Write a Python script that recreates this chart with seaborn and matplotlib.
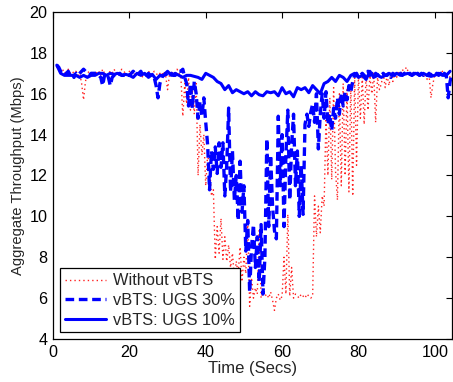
import numpy as np
import pandas as pd
import matplotlib
matplotlib.use("Agg")
import matplotlib.pyplot as plt
import seaborn as sns

# ---- data ----
t_fast = np.arange(1.0, 104.75, 0.5)  # 0.5 s samples

without_vbts = [
    17.3, 17.2, 17.1, 17.2, 17.0, 17.1, 17.2, 17.0, 17.1, 17.0,
    17.1, 16.9, 17.0, 16.5, 15.7, 16.6, 17.0, 17.1, 16.9, 17.0,
    17.1, 17.0, 17.1, 16.9, 17.2, 17.0, 16.9, 17.0, 17.1, 17.0,
    17.2, 17.0, 17.1, 17.0, 17.2, 17.1, 17.0, 16.9, 17.1, 17.0,
    17.1, 16.9, 17.0, 17.1, 17.0, 16.8, 17.0, 16.9, 17.1, 17.0,
    16.9, 17.1, 17.0, 16.9, 17.0, 16.9, 17.1, 16.9, 16.2, 16.9,
    17.0, 17.1, 16.9, 17.2, 17.0, 16.8, 14.9, 16.5, 15.5, 16.8,
    15.2, 16.2, 15.0, 16.5, 12.0, 14.5, 13.0, 14.0, 11.5, 13.0,
    12.5, 11.0, 11.3, 7.9, 9.5, 8.2, 9.9, 7.9, 9.0, 7.8,
    8.6, 7.5, 8.2, 7.0, 7.8, 7.2, 8.5, 6.8, 8.0, 7.2,
    9.8, 5.6, 7.0, 6.0, 6.5, 6.2, 9.3, 6.0, 6.3, 6.1,
    6.2, 6.0, 6.3, 5.9, 5.4, 6.0, 6.2, 5.9, 6.1, 8.0,
    6.2, 10.1, 6.1, 7.5, 6.0, 6.2, 6.1, 6.0, 6.2, 6.1,
    6.0, 6.2, 6.1, 6.0, 6.1, 11.0, 9.0, 10.5, 9.2, 11.0,
    10.5, 14.9, 12.0, 15.8, 11.8, 16.3, 12.2, 10.8, 16.0, 11.5,
    16.5, 12.0, 16.2, 11.2, 16.5, 11.0, 16.8, 12.5, 16.9, 14.8,
    16.8, 14.5, 16.9, 15.2, 16.9, 16.0, 17.0, 14.6, 16.8, 16.2,
    16.5, 17.0, 16.3, 16.9, 16.4, 17.0, 16.6, 17.0, 16.8, 17.1,
    16.9, 17.2, 17.0, 17.3, 17.1, 17.0, 16.9, 17.1, 17.0, 16.9,
    17.0, 16.9, 16.8, 17.0, 16.7, 16.9, 15.8, 16.5, 16.9, 17.0,
    17.0, 16.9, 17.1, 16.9, 17.0, 17.0, 16.8, 16.9,
]

ugs30 = [
    17.4, 17.3, 17.1, 17.0, 16.9, 17.0, 17.1, 16.9, 17.0, 16.8,
    17.0, 16.9, 17.0, 17.1, 17.2, 17.1, 17.0, 16.9, 17.0, 17.0,
    17.0, 17.0, 16.9, 16.8, 16.4, 16.9, 16.7, 16.8, 16.4, 16.8,
    16.9, 17.0, 16.9, 17.0, 16.9, 16.9, 17.0, 16.9, 16.9, 17.0,
    17.1, 17.0, 16.9, 17.0, 17.1, 16.9, 17.0, 16.9, 17.0, 16.9,
    16.9, 16.8, 16.4, 15.8, 16.5, 16.8, 16.9, 17.0, 16.8, 16.9,
    17.0, 16.9, 16.9, 17.0, 17.1, 17.1, 17.2, 16.8, 16.5, 15.4,
    16.5, 15.3, 16.6, 16.0, 14.8, 15.6, 14.9, 15.8, 14.6, 13.5,
    11.3, 13.2, 12.3, 13.4, 12.1, 13.6, 12.4, 13.6, 11.0, 12.5,
    15.3, 11.2, 13.2, 10.8, 12.0, 9.8, 12.7, 10.2, 11.5, 8.3,
    9.8, 6.3, 8.5, 9.6, 7.5, 9.0, 6.8, 9.6, 6.2, 8.0,
    13.8, 9.5, 13.0, 10.5, 9.3, 8.9, 14.9, 11.5, 14.0, 9.5,
    13.0, 15.2, 10.8, 13.5, 15.0, 11.5, 13.2, 10.0, 12.5, 10.1,
    14.5, 15.0, 14.4, 15.1, 15.5, 14.6, 16.0, 13.3, 15.0, 16.0,
    14.8, 16.1, 14.5, 15.0, 14.2, 15.3, 14.8, 15.8, 15.0, 16.0,
    15.4, 16.1, 15.7, 16.4, 16.1, 16.6, 16.9, 17.0, 16.8, 16.9,
    17.0, 16.9, 16.8, 17.1, 16.9, 17.0, 16.8, 17.0, 16.9, 17.0,
    16.9, 17.0, 16.9, 16.9, 17.0, 16.8, 17.0, 16.9, 17.0, 16.9,
    17.0, 16.9, 17.0, 16.9, 16.9, 17.0, 16.9, 17.0, 16.9, 17.0,
    16.9, 17.0, 16.9, 17.0, 16.9, 17.0, 16.9, 17.0, 16.9, 17.0,
    16.9, 17.0, 16.8, 17.0, 16.9, 15.8, 16.6, 17.0,
]

t_slow = np.arange(1, 105, 1)  # 1 s samples
ugs10 = [
    17.4, 17.0, 16.9, 16.9, 16.9, 16.9, 16.8, 16.9, 16.8, 16.9,
    16.9, 17.0, 17.0, 16.9, 17.0, 16.95, 17.0, 16.9, 16.95, 16.9,
    16.8, 17.0, 16.9, 17.0, 16.8, 16.95, 16.7, 16.9, 16.9, 17.1,
    16.9, 17.0, 16.9, 16.8, 16.9, 16.9, 16.85, 16.8, 16.7, 17.0,
    16.9, 16.8, 16.6, 16.5, 16.2, 16.4, 16.05, 16.2, 16.1, 16.0,
    16.1, 15.9, 16.1, 15.95, 15.9, 16.1, 16.05, 16.1, 15.9, 16.3,
    16.0, 16.1, 15.85, 16.3, 16.2, 16.3, 16.05, 16.4, 16.2, 16.0,
    16.5, 16.6, 16.8, 16.6, 16.9, 16.8, 16.6, 16.9, 17.0, 16.8,
    16.9, 16.7, 17.1, 16.8, 16.9, 16.8, 16.9, 17.0, 16.9, 17.0,
    16.9, 16.95, 17.0, 16.9, 17.0, 16.9, 17.0, 16.9, 16.85, 16.9,
    17.0, 16.9, 16.9, 17.1,
]

labels = ["Without vBTS", "vBTS: UGS 30%", "vBTS: UGS 10%"]

x_ticks = [0, 20, 40, 60, 80, 100]
y_ticks = [4, 6, 8, 10, 12, 14, 16, 18, 20]

# ---- plot ----
sns.set_theme(style="white")
plt.rcParams["font.family"] = ["Liberation Sans", "DejaVu Sans"]

fig = plt.figure(figsize=(4.53, 3.82), dpi=100)
ax = fig.add_axes([53 / 453, 1 - 339 / 382, (452 - 53) / 453, (339 - 12) / 382])

df_red = pd.DataFrame({"t": t_fast, "v": without_vbts})
df_d = pd.DataFrame({"t": t_fast, "v": ugs30})
df_s = pd.DataFrame({"t": t_slow, "v": ugs10})

sns.lineplot(data=df_red, x="t", y="v", ax=ax, color="#ff2020", lw=1.0,
             linestyle=(0, (1, 2.2)), label=labels[0], estimator=None)
sns.lineplot(data=df_d, x="t", y="v", ax=ax, color="#0000ff", lw=2.4,
             linestyle=(0, (2.6, 1.4)), label=labels[1], estimator=None)
sns.lineplot(data=df_s, x="t", y="v", ax=ax, color="#0000ff", lw=2.2,
             linestyle="-", label=labels[2], estimator=None)

ax.set_xlim(0, 104.5)
ax.set_ylim(4, 20)
ax.set_xticks(x_ticks)
ax.set_yticks(y_ticks)
ax.set_xlabel("Time (Secs)", fontsize=12, labelpad=1)
ax.set_ylabel("Aggregate Throughput (Mbps)", fontsize=10.6, labelpad=3)
ax.tick_params(axis="both", which="both", direction="in", length=4, width=0.8,
               top=True, right=True, labelsize=11.6, colors="black", pad=4)
for sp in ax.spines.values():
    sp.set_color("black")
    sp.set_linewidth(0.9)

leg = ax.legend(loc="lower left", bbox_to_anchor=(0.018, 0.02), fontsize=11.8,
                frameon=True, fancybox=False, framealpha=1, borderpad=0.3,
                handlelength=2.5, handletextpad=0.45, labelspacing=0.28,
                borderaxespad=0)
leg.get_frame().set_edgecolor("black")
leg.get_frame().set_linewidth(0.9)

fig.savefig("out.png", dpi=100)
